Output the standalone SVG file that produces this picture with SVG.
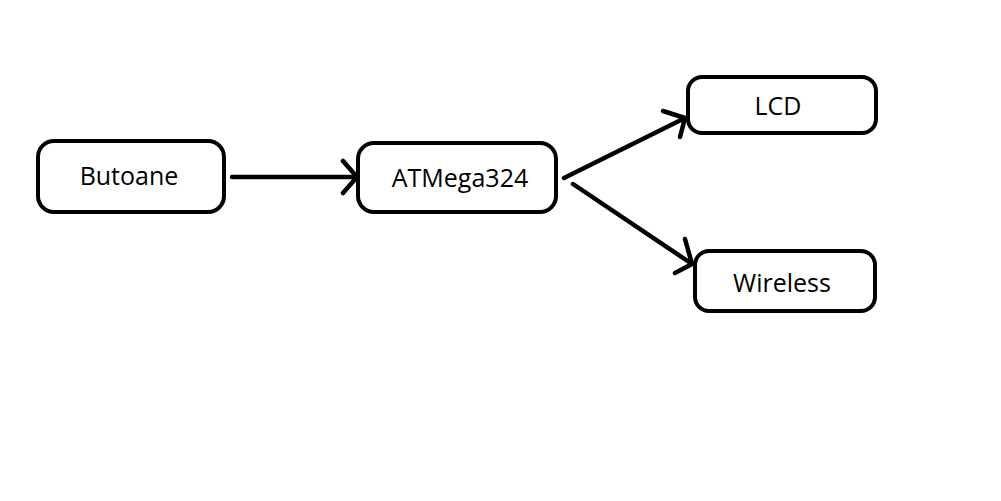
<svg xmlns="http://www.w3.org/2000/svg" width="1001" height="501" viewBox="0 0 1001 501">
<style>
.box{fill:#fff;stroke:#000;stroke-width:4}
.lbl{font-family:"Open Sans","Noto Sans",sans-serif;font-size:25px;fill:#000;text-anchor:middle}
.edge{fill:none;stroke:#000;stroke-width:4.5;stroke-linecap:round;stroke-linejoin:round}
</style>
<rect width="1001" height="501" fill="#fff"/>
<g id="connectors">
<path class="edge" d="M232,177 L356,177 M343,161 L357,177 L343,193"/>
<path class="edge" d="M564,178 L685,118 M663,111 L685,118 L680,137"/>
<path class="edge" d="M573,184 L692,264 M685,239 L692,264 L675,273"/>
</g>
<g id="butoane"><rect class="box" x="38" y="141" width="186" height="71" rx="16"/><text class="lbl" x="129" y="185">Butoane</text></g>
<g id="atmega"><rect class="box" x="358" y="143" width="198" height="69" rx="16"/><text class="lbl" x="460" y="187">ATMega324</text></g>
<g id="lcd"><rect class="box" x="688" y="77" width="188" height="56" rx="14"/><text class="lbl" x="778" y="115">LCD</text></g>
<g id="wireless"><rect class="box" x="695" y="251" width="180" height="60" rx="14"/><text class="lbl" x="782" y="292">Wireless</text></g>
</svg>
